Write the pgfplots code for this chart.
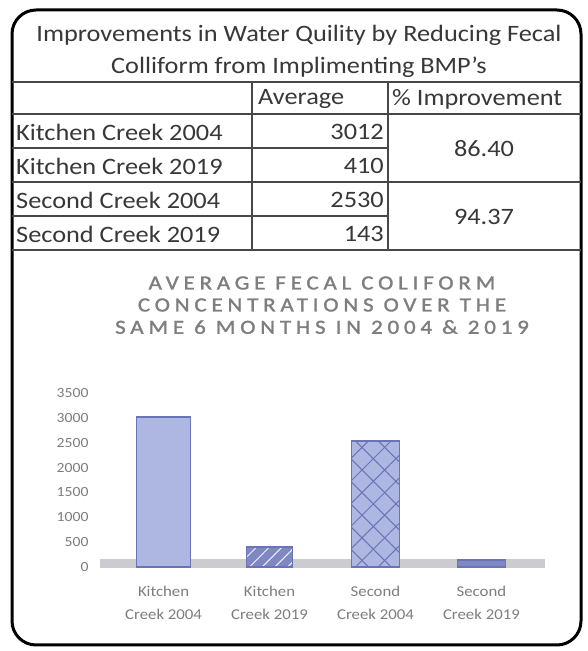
\documentclass[border=0pt]{standalone}
\usepackage{pgfplots}
\pgfplotsset{compat=1.18}
\usepackage{fontspec}
\setmainfont{Carlito}[FakeStretch=1.12]
\newfontfamily\spaced{Carlito}[LetterSpace=24, FakeStretch=1.15, FakeBold=1.5]
\usetikzlibrary{patterns.meta}

\definecolor{barfill}{HTML}{AEB6E2}
\definecolor{baredge}{HTML}{6B75B5}
\definecolor{bardark}{HTML}{7F88C2}
\definecolor{tabtext}{HTML}{383838}
\definecolor{tabline}{HTML}{474747}
\definecolor{charttext}{HTML}{7E7E7E}
\definecolor{floor}{HTML}{CCCCD0}

\begin{document}
\begin{tikzpicture}[x=1pt,y=1pt]
\fill[white] (0,0) rectangle (587,651);

% table and frame, in image pixel coordinates (y down)
\begin{scope}[shift={(0,651)},yscale=-1]
  \draw[black, line width=3pt, rounded corners=24pt] (12,10) rectangle (581,645);
  \draw[tabline, line width=1.6pt]
    (12,82)--(581,82) (12,114)--(581,114)
    (12,148)--(388,148) (12,182)--(581,182)
    (12,216)--(388,216) (12,250)--(581,250)
    (252,82)--(252,250) (388,82)--(388,250);
  \begin{scope}[every node/.style={text=tabtext, font=\fontsize{23.5}{26}\selectfont, inner sep=0pt}]
    \node at (299,35) {Improvements in Water Quility by Reducing Fecal};
    \node at (299,67) {Colliform from Implimenting BMP's};
    \node[anchor=west] at (258,99) {Average};
    \node[anchor=west] at (392,99) {\% Improvement};
    \node[anchor=west] at (16,132) {Kitchen Creek 2004};
    \node[anchor=west] at (16,166) {Kitchen Creek 2019};
    \node[anchor=west] at (16,200) {Second Creek 2004};
    \node[anchor=west] at (16,234) {Second Creek 2019};
    \node[anchor=east] at (384,132) {3012};
    \node[anchor=east] at (384,166) {410};
    \node[anchor=east] at (384,200) {2530};
    \node[anchor=east] at (384,234) {143};
    \node at (484,149) {86.40};
    \node at (484,217) {94.37};
  \end{scope}
  \begin{scope}[every node/.style={text=charttext, font=\spaced\fontsize{20}{22}\selectfont, inner sep=0pt}]
    \node at (322,283) {AVERAGE FECAL COLIFORM};
    \node at (322,305) {CONCENTRATIONS OVER THE};
    \node at (322,327) {SAME 6 MONTHS IN 2004 \& 2019};
  \end{scope}
\end{scope}

\begin{axis}[
  at={(100pt,84pt)}, anchor=south west,
  scale only axis, width=445pt, height=174pt,
  xmin=-0.6, xmax=3.6, ymin=0, ymax=3500,
  clip=false,
  ytick={0,500,...,3500},
  xtick={0,1,2,3},
  xticklabels={Kitchen\\Creek 2004, Kitchen\\Creek 2019, Second\\Creek 2004, Second\\Creek 2019},
  xticklabel style={align=center, text=charttext, font=\fontsize{15}{23}\selectfont, yshift=-11pt},
  yticklabel style={text=charttext, font=\fontsize{14}{15}\selectfont, anchor=east, xshift=-8pt},
  /pgf/number format/assume math mode=true,
  /pgf/number format/set thousands separator={},
  axis line style={draw=none}, major tick style={draw=none},
  ybar, bar shift=0pt,
]
\fill[floor] (axis cs:-0.6,-30) rectangle (axis cs:3.6,160);
\addplot[fill=barfill, draw=baredge, line width=1.8pt, bar width=54pt] coordinates {(0,3012)};
\addplot[fill=bardark, draw=baredge, line width=1.8pt, bar width=46pt,
  postaction={pattern={Lines[angle=45,distance=9pt,line width=1pt]}, pattern color=white!80!barfill}] coordinates {(1,410)};
\addplot[fill=barfill, draw=baredge, line width=1.8pt, bar width=48pt,
  postaction={pattern={Lines[angle=45,distance=16pt,line width=1pt]}, pattern color=baredge},
  postaction={pattern={Lines[angle=-45,distance=16pt,line width=1pt]}, pattern color=baredge}] coordinates {(2,2530)};
\addplot[fill=bardark, draw=baredge, line width=1.8pt, bar width=48pt] coordinates {(3,143)};
\end{axis}
\end{tikzpicture}
\end{document}
